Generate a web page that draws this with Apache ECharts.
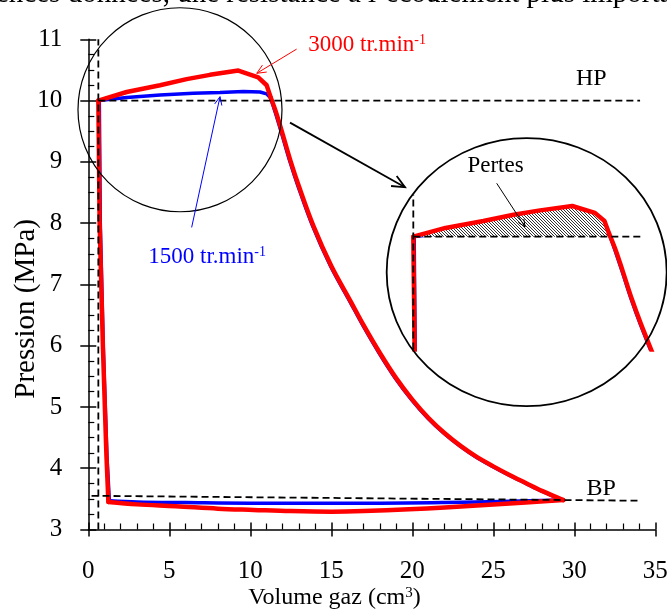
<!DOCTYPE html>
<html><head><meta charset="utf-8">
<script src="https://cdn.jsdelivr.net/npm/echarts@6/dist/echarts.min.js"></script>
<style>html,body{margin:0;padding:0;background:#fff;}#c{width:667px;height:612px;}</style>
</head><body><div id="c"></div>
<script>
// ---------- data (x: volume gaz cm3, y: pression MPa) ----------
const xTicks = [0, 5, 10, 15, 20, 25, 30, 35];
const yTicks = [3, 4, 5, 6, 7, 8, 9, 10, 11];
const HP = 10.0;
// 3000 tr.min-1 cycle : discharge (top), compression (right), suction (bottom), re-expansion (left)
const redTop = [[0.62,10.0],[2.37,10.14],[4.43,10.25],[6.07,10.35],[7.51,10.42],[9.26,10.49],[10.49,10.38],[11.01,10.25],[11.26,10.05]];
const redComp = [[11.26,10.05],[11.6,9.8],[12.0,9.45],[12.5,9.0],[13.0,8.6],[13.9,7.95],[15.0,7.3],[16.2,6.72],[17.0,6.33],[18.0,5.88],[19.0,5.47],[20.0,5.12],[21.0,4.82],[22.0,4.57],[23.0,4.36],[24.0,4.18],[25.0,4.03],[26.0,3.89],[27.0,3.76],[28.0,3.63],[29.32,3.48]];
const redBottom = [[29.32,3.48],[27.0,3.44],[24.5,3.40],[22.0,3.36],[19.8,3.33],[17.0,3.30],[15.0,3.29],[12.5,3.30],[10.2,3.32],[8.0,3.34],[5.4,3.38],[3.0,3.41],[1.24,3.45]];
const redLeft = [[1.24,3.45],[1.12,4.2],[0.9,6.0],[0.7,8.0],[0.62,10.0]];
// 1500 tr.min-1 cycle
const blueTop = [[0.68,10.0],[2.37,10.05],[4.43,10.09],[6.48,10.12],[8.13,10.13],[9.57,10.15],[10.6,10.14],[11.01,10.11],[11.26,10.04]];
const blueComp = [[11.26,10.04],[11.55,9.8],[11.95,9.45],[12.45,9.0],[12.95,8.6],[13.85,7.95],[14.95,7.3],[16.15,6.72],[16.95,6.33],[17.95,5.88],[18.95,5.47],[19.95,5.12],[20.95,4.82],[21.95,4.57],[22.95,4.36],[23.95,4.18],[24.95,4.03],[25.95,3.89],[26.95,3.76],[27.95,3.63],[29.3,3.48]];
const blueBottom = [[29.3,3.48],[26.0,3.46],[22.0,3.44],[18.0,3.43],[14.0,3.43],[10.0,3.43],[6.0,3.44],[3.0,3.45],[1.3,3.47]];
const blueLeft = [[1.3,3.47],[1.15,4.2],[0.92,6.0],[0.74,8.0],[0.68,10.0]];
// reference (dashed) lines
const hpLine = [[0.62,10.0],[34.06,10.0]];
const bpLine = [[0.2,3.55],[33.9,3.47]];
const vLine = [[0.62,3.0],[0.62,11.0]];
const insetHpLine = [[0.62,10.0],[13.12,10.0]];
const insetVLine = [[0.62,8.2],[0.62,10.67]];
// text
const xName = 'Volume gaz (cm';
const yName = 'Pression (MPa)';
const label3000 = '3000 tr.min';
const label1500 = '1500 tr.min';
const topText = 'ences données, une résistance à l’écoulement plus importante';

const FONT = '"Liberation Serif", "Times New Roman", serif';
const chart = echarts.init(document.getElementById('c'));

// hatch pattern
const hc = document.createElement('canvas');
hc.width = 3; hc.height = 3;
const hx = hc.getContext('2d');
hx.fillStyle = '#fff'; hx.fillRect(0,0,3,3);
hx.strokeStyle = '#1a1a1a'; hx.lineWidth = 0.9;
hx.beginPath(); hx.moveTo(-1,-1); hx.lineTo(4,4); hx.stroke();
hx.beginPath(); hx.moveTo(2,-1); hx.lineTo(4,1); hx.stroke();
hx.beginPath(); hx.moveTo(-1,2); hx.lineTo(1,4); hx.stroke();

const tickCommon = {color:'#000', width:1.5};
function mainX(extra){ return Object.assign({gridIndex:0,type:'value',min:xTicks[0],max:xTicks[xTicks.length-1],interval:xTicks[1]-xTicks[0],splitLine:{show:false}}, extra); }
function mainY(extra){ return Object.assign({gridIndex:0,type:'value',min:yTicks[0],max:yTicks[yTicks.length-1],interval:yTicks[1]-yTicks[0],splitLine:{show:false}}, extra); }

const dashed = {color:'#000', width:1.8, type:[7,4]};
function seg(data, color, width, smooth, ax, z){
  return {type:'line',xAxisIndex:ax,yAxisIndex:ax,data:data,symbol:'none',smooth:smooth,
    lineStyle:{color:color,width:width,join:'round',cap:'round'},z:z};
}
function cycle(parts, color, width, ax, z){
  return [seg(parts[0],color,width,false,ax,z), seg(parts[1],color,width,0.35,ax,z),
          seg(parts[2],color,width,0.35,ax,z), seg(parts[3],color,width,false,ax,z)];
}
const redParts = [redTop, redComp, redBottom, redLeft];
const blueParts = [blueTop, blueComp, blueBottom, blueLeft];

const option = {
  animation:false,
  backgroundColor:'#fff',
  grid:[
    {left:88.3, right:11.7, top:39.3, bottom:82.5, containLabel:false, outerBoundsMode:'none'},
    {left:401.9, width:257.6, top:186.6, height:162.8, containLabel:false, outerBoundsMode:'none'}
  ],
  xAxis:[
    mainX({axisLine:{lineStyle:tickCommon}, axisTick:{inside:true,length:7,lineStyle:tickCommon},
      minorTick:{show:true,splitNumber:5,length:6,lineStyle:{color:'#000',width:1.2}},
      axisLabel:{color:'#000',fontSize:25,fontFamily:FONT,margin:29}}),
    mainX({position:'bottom',axisLine:{show:false},axisTick:{inside:false,length:7,lineStyle:tickCommon},axisLabel:{show:false}}),
    {gridIndex:1,type:'value',min:0,max:14,show:false}
  ],
  yAxis:[
    mainY({axisLine:{lineStyle:tickCommon}, axisTick:{inside:true,length:8,lineStyle:tickCommon},
      minorTick:{show:true,splitNumber:4,length:6,lineStyle:{color:'#000',width:1.2}},
      axisLabel:{color:'#000',fontSize:25,fontFamily:FONT,margin:26}}),
    mainY({position:'left',axisLine:{show:false},axisTick:{inside:false,length:8,lineStyle:tickCommon},axisLabel:{show:false}}),
    {gridIndex:1,type:'value',min:8.2,max:10.8,show:false}
  ],
  series:[].concat(
    cycle(blueParts,'#0000ff',3.5,0,2),
    cycle(redParts,'#ff0000',4.5,0,3),
    [
      {type:'line',xAxisIndex:0,yAxisIndex:0,data:hpLine,symbol:'none',lineStyle:dashed,z:4},
      {type:'line',xAxisIndex:0,yAxisIndex:0,data:bpLine,symbol:'none',lineStyle:dashed,z:4},
      {type:'line',xAxisIndex:0,yAxisIndex:0,data:vLine,symbol:'none',lineStyle:dashed,z:4}
    ],
    cycle(blueParts,'#0000ff',3,2,2),
    [{type:'custom',xAxisIndex:2,yAxisIndex:2,data:[[0,HP]],z:3,
      renderItem:function(params, api){
        const pts = redTop.map(p=>api.coord(p));
        pts.push(api.coord([redTop[redTop.length-1][0]+0.05, HP]));
        pts.push(api.coord([redTop[0][0], HP]));
        return {type:'polygon',shape:{points:pts},style:{fill:{image:hc,repeat:'repeat'},stroke:null}};
      }}],
    cycle(redParts,'#ff0000',4.5,2,4),
    [
      {type:'line',xAxisIndex:2,yAxisIndex:2,data:insetHpLine,symbol:'none',lineStyle:dashed,z:5},
      {type:'line',xAxisIndex:2,yAxisIndex:2,data:insetVLine,symbol:'none',lineStyle:dashed,z:5}
    ]
  )
};
chart.setOption(option);

// ---------- annotations, anchored in data units of the main grid ----------
function P(d){ return chart.convertToPixel({gridIndex:0}, d); }
function arrow(from, to, color, width, head){
  const a = P(from), b = P(to);
  const ang = Math.atan2(b[1]-a[1], b[0]-a[0]);
  const h1 = [b[0]-head*Math.cos(ang-0.42), b[1]-head*Math.sin(ang-0.42)];
  const h2 = [b[0]-head*Math.cos(ang+0.42), b[1]-head*Math.sin(ang+0.42)];
  return [
    {type:'line',shape:{x1:a[0],y1:a[1],x2:b[0],y2:b[1]},style:{stroke:color,lineWidth:width},z:100},
    {type:'polyline',shape:{points:[h1,b,h2]},style:{stroke:color,lineWidth:width,fill:null},z:100}
  ];
}
function label(pos, text, color, sup, fs){
  const p = P(pos);
  fs = fs || 23;
  return {type:'text',x:p[0],y:p[1],z:100,style:{
    text: sup ? '{a|'+text+'}{s|'+sup+'}' : text,
    fill:color, font:fs+'px '+FONT, align:'left', verticalAlign:'middle',
    rich:{a:{fill:color,fontSize:fs,fontFamily:FONT},s:{fill:color,fontSize:14,fontFamily:FONT,verticalAlign:'top'}}
  }};
}
const c1 = P([5.66,9.85]);
const c2 = P([27.06,7.20]);
const xn = P([15.2,3.0]);
const yn = P([0,6.6]);
const els = [
  {type:'circle',shape:{cx:c1[0],cy:c1[1],r:102},style:{stroke:'#000',lineWidth:1.2,fill:null},z:90},
  {type:'circle',x:c2[0],y:c2[1],scaleY:134/140,shape:{cx:0,cy:0,r:140},style:{stroke:'#000',lineWidth:1.8,fill:null},z:90},
  label([13.58,10.915], label3000, '#ff0000', '-1'),
  label([3.70,7.444], label1500, '#0000ff', '-1'),
  label([23.40,8.929], 'Pertes', '#000'),
  label([30.1,10.35], 'HP', '#000', null, 24),
  label([30.75,3.66], 'BP', '#000', null, 24),
  {type:'text',x:xn[0],y:598,z:100,style:{text:'{a|'+xName+'}{s|3}{a|)}',fill:'#000',font:'24px '+FONT,align:'center',verticalAlign:'middle',
    rich:{a:{fill:'#000',fontSize:24,fontFamily:FONT},s:{fill:'#000',fontSize:15,fontFamily:FONT,verticalAlign:'top'}}}},
  {type:'text',x:yn[0]-62,y:yn[1],rotation:Math.PI/2,z:100,style:{text:yName,fill:'#000',font:'29px '+FONT,align:'center',verticalAlign:'middle'}},
  {type:'text',x:-4,y:-20,z:100,style:{text:topText,fill:'#000',font:'29px '+FONT,align:'left',verticalAlign:'top'}}
].concat(
  arrow([12.86,10.84],[10.40,10.445],'#ff0000',1,10),
  arrow([6.38,7.93],[8.13,10.063],'#0000ff',1,9),
  arrow([12.45,9.64],[19.55,8.585],'#000',1.8,14),
  arrow([25.21,8.65],[26.96,7.94],'#000',1,8)
);
chart.setOption({graphic:{elements:els}});
</script></body></html>
